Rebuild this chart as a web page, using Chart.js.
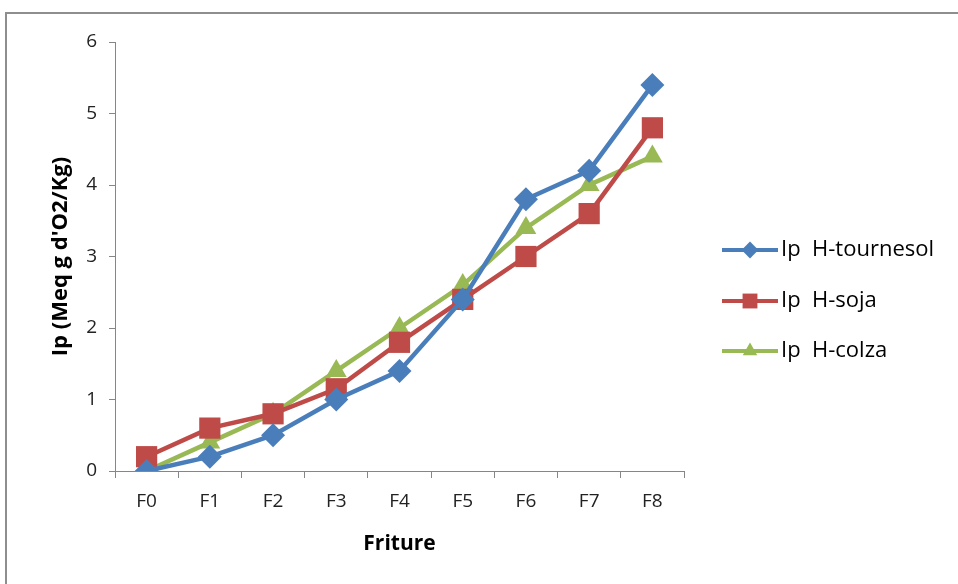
<!DOCTYPE html>
<html>
<head>
<meta charset="utf-8">
<script src="https://cdn.jsdelivr.net/npm/chart.js@4"></script>
<style>
  html, body { margin: 0; padding: 0; background: #fff; }
  #wrap { position: relative; width: 958px; height: 584px; overflow: hidden; }
  #frame { position: absolute; left: 5px; top: 12px; width: 1000px; height: 700px;
           border-left: 2px solid #8e8e8e; border-top: 2px solid #8e8e8e; }
  #c { position: absolute; left: 0; top: 0; }
</style>
</head>
<body>
<div id="wrap">
  <div id="frame"></div>
  <canvas id="c" width="958" height="584"></canvas>
</div>
<script>
var categories = ["F0", "F1", "F2", "F3", "F4", "F5", "F6", "F7", "F8"];
var tournesol = [0, 0.2, 0.5, 1.0, 1.4, 2.4, 3.8, 4.2, 5.4];
var soja = [0.2, 0.6, 0.8, 1.15, 1.8, 2.4, 3.0, 3.6, 4.8];
var colza = [0, 0.4, 0.8, 1.4, 2.0, 2.6, 3.4, 4.0, 4.4];
var names = ["Ip  H-tournesol", "Ip  H-soja", "Ip  H-colza"];

var fontFam = "'Open Sans', sans-serif";

// legend on the right: short line with the marker in the middle
var sideLegend = {
  id: 'sideLegend',
  afterDraw: function(chart) {
    var ctx = chart.ctx;
    var x0 = 722, x1 = 778, ys = [250, 301, 351];
    chart.data.datasets.forEach(function(ds, i) {
      var y = ys[i];
      ctx.save();
      ctx.strokeStyle = ds.borderColor;
      ctx.lineWidth = 4;
      ctx.beginPath();
      ctx.moveTo(x0, y);
      ctx.lineTo(x1, y);
      ctx.stroke();
      ctx.fillStyle = ds.pointBackgroundColor;
      ctx.strokeStyle = ds.pointBackgroundColor;
      Chart.helpers.drawPoint(ctx, {
        pointStyle: ds.pointStyle, rotation: 0, borderWidth: 0, radius: ds.pointRadius * 0.7
      }, (x0 + x1) / 2, y);
      ctx.fillStyle = '#000';
      ctx.font = "22px " + fontFam;
      ctx.textBaseline = 'middle';
      ctx.textAlign = 'left';
      ctx.fillText(ds.label, x1 + 3, y);
      ctx.restore();
    });
  }
};

new Chart(document.getElementById('c'), {
  type: 'line',
  data: {
    labels: categories,
    datasets: [
      { label: names[0], data: tournesol, borderColor: '#4a7ebb', backgroundColor: '#4a7ebb',
        pointBackgroundColor: '#4a7ebb', pointBorderColor: '#4a7ebb', pointStyle: 'rectRot', pointRadius: 12 },
      { label: names[1], data: soja, borderColor: '#be4b48', backgroundColor: '#be4b48',
        pointBackgroundColor: '#be4b48', pointBorderColor: '#be4b48', pointStyle: 'rect', pointRadius: 15 },
      { label: names[2], data: colza, borderColor: '#98b954', backgroundColor: '#98b954',
        pointBackgroundColor: '#98b954', pointBorderColor: '#98b954', pointStyle: 'triangle', pointRadius: 12 }
    ]
  },
  options: {
    responsive: false,
    animation: false,
    layout: { padding: { left: 44, top: 42, right: 274, bottom: 23 } },
    elements: { line: { borderWidth: 4.5, tension: 0 }, point: { borderWidth: 0 } },
    plugins: { legend: { display: false }, tooltip: { enabled: false } },
    scales: {
      x: {
        offset: true,
        grid: { display: true, offset: true, drawOnChartArea: false, tickLength: 7, color: '#868686' },
        border: { color: '#868686', width: 1 },
        ticks: { color: '#222', padding: 12, font: { family: fontFam, size: 19 } },
        title: { display: true, text: 'Friture', color: '#000', font: { family: fontFam, size: 21, weight: 'bold' } },
        afterFit: function(s) { s.height = 90; }
      },
      y: {
        min: 0, max: 6,
        grid: { display: true, drawOnChartArea: false, tickLength: 6, color: '#868686' },
        border: { color: '#868686', width: 1 },
        ticks: { stepSize: 1, color: '#222', padding: 12, font: { family: fontFam, size: 19 } },
        title: { display: true, text: "Ip (Meq g d'O2/Kg)", color: '#000', font: { family: fontFam, size: 22, weight: 'bold' } },
        afterFit: function(s) { s.width = 71; }
      }
    }
  },
  plugins: [sideLegend]
});
</script>
</body>
</html>
